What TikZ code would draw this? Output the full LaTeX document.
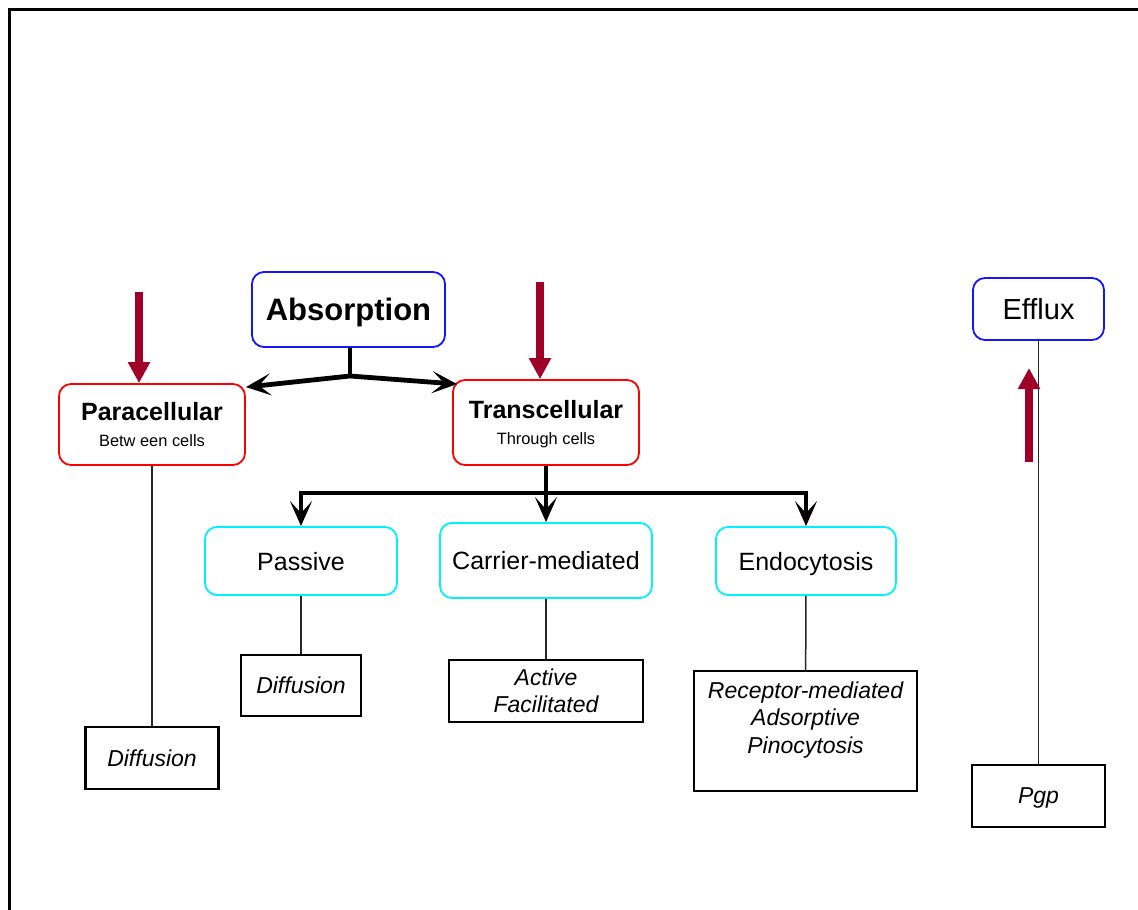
\documentclass[tikz,border=0pt]{standalone}
\usepackage{fontspec}
\setmainfont{Liberation Sans}
\usepackage{xcolor}
\usepackage{tikz}
\usetikzlibrary{positioning,arrows.meta}
\definecolor{arrowred}{RGB}{160,0,40}
\definecolor{boxcyan}{RGB}{0,240,255}
\definecolor{boxblue}{RGB}{20,20,255}
\tikzset{
  flow/.style={x=1pt,y=-1pt,
    >={Stealth[length=25pt,width=22pt,inset=12pt]},
    line join=miter},
  frame/.style={line width=3pt},
  group/.style={rectangle,rounded corners=12pt,draw=boxblue,line width=1.8pt,inner sep=0pt,text depth=0pt},
  route/.style={rectangle,rounded corners=12pt,draw=red,line width=1.8pt,inner sep=0pt,
    align=center,font=\fontsize{16.4}{25.5}\selectfont},
  mode/.style={rectangle,rounded corners=12pt,draw=boxcyan,line width=1.8pt,inner sep=0pt,
    text depth=0pt,font=\fontsize{25}{30}\selectfont},
  leaf/.style={rectangle,draw,line width=2.5pt,inner sep=0pt,align=center,
    font=\fontsize{23}{27.5}\selectfont\itshape},
  leaftext/.style={inner sep=0pt,align=center,font=\fontsize{23}{27.5}\selectfont\itshape},
  branch/.style={line width=4.8pt},
  stem/.style={line width=1.5pt,black!85},
  inflow/.style={draw=arrowred,line width=7.5pt,-{Triangle[length=21pt,width=21pt]}}}

\begin{document}
\begin{tikzpicture}[flow]
  \useasboundingbox (0,0) rectangle (1138,910);
  \draw[frame] (9,910) -- (9,9) -- (1138,9);
  % top level
  \node[group,minimum width=193pt,minimum height=75pt,font=\fontsize{31}{36}\selectfont\bfseries] (abs) at (348.5,309.5) {Absorption};
  \node[group,minimum width=131pt,minimum height=62pt,font=\fontsize{29}{34}\selectfont] (efflux) at (1038.5,309) {Efflux};
  % routes
  \node[route,minimum width=186pt,minimum height=81pt] (para) at (152,424.5) {{\fontsize{25}{25}\selectfont\bfseries Paracellular}\\Betw een cells};
  \node[route,minimum width=186pt,minimum height=85pt,text depth=0pt] (trans) at (546,422.5) {{\fontsize{25}{25}\selectfont\bfseries Transcellular}\\Through cells};
  % modes
  \node[mode,minimum width=192pt,minimum height=68pt] (passive) at (301,561) {Passive};
  \node[mode,minimum width=212pt,minimum height=75pt] (carrier) at (546,560.5) {Carrier-mediated};
  \node[mode,minimum width=180pt,minimum height=68pt] (endo) at (806,561) {Endocytosis};
  % leaves
  \node[leaf,minimum width=133pt,minimum height=62pt] (pdiff) at (152,758) {Diffusion};
  \node[leaf,minimum width=120pt,minimum height=61pt] (sdiff) at (301,685.5) {Diffusion};
  \node[leaf,minimum width=194pt,minimum height=62pt] (active) at (546,691) {Active\\Facilitated};
  \node[leaf,minimum width=223pt,minimum height=120pt] (recep) at (805.5,731) {};
  \node[leaftext] (receptext) at ([yshift=11pt]recep.center) {Receptor-mediated\\Adsorptive\\Pinocytosis};
  \node[leaf,minimum width=133pt,minimum height=62pt,text depth=0pt] (pgp) at (1038.5,796) {Pgp};
  % thin stems
  \draw[stem] (para) -- (pdiff);
  \draw[stem] (passive) -- (sdiff);
  \draw[stem] (carrier) -- (active);
  \draw[stem] (endo) -- (recep);
  \draw[stem] (efflux) -- (pgp);
  % branches
  \coordinate (absfork) at (350,376);
  \coordinate (transfork) at (546,493);
  \draw[branch] (abs.south -| absfork) -- (absfork);
  \draw[branch,<->] ([yshift=-4pt]para.north east) -- (absfork) -- ([xshift=5pt,yshift=-5pt]trans.north west);
  \draw[branch,->] (trans.south) -- (carrier.north);
  \draw[branch,<->] (passive.north) -- (passive.north |- transfork) -- (endo.north |- transfork) -- (endo.north);
  % red arrows
  \coordinate (parain) at (139,292);
  \coordinate (transin) at (540,282);
  \coordinate (effout) at (1029,462);
  \coordinate (efftip) at (1029,368);
  \draw[inflow] (parain) -- (parain |- para.north);
  \draw[inflow] (transin) -- (transin |- trans.north);
  \draw[inflow] (effout) -- (efftip);
\end{tikzpicture}
\end{document}
